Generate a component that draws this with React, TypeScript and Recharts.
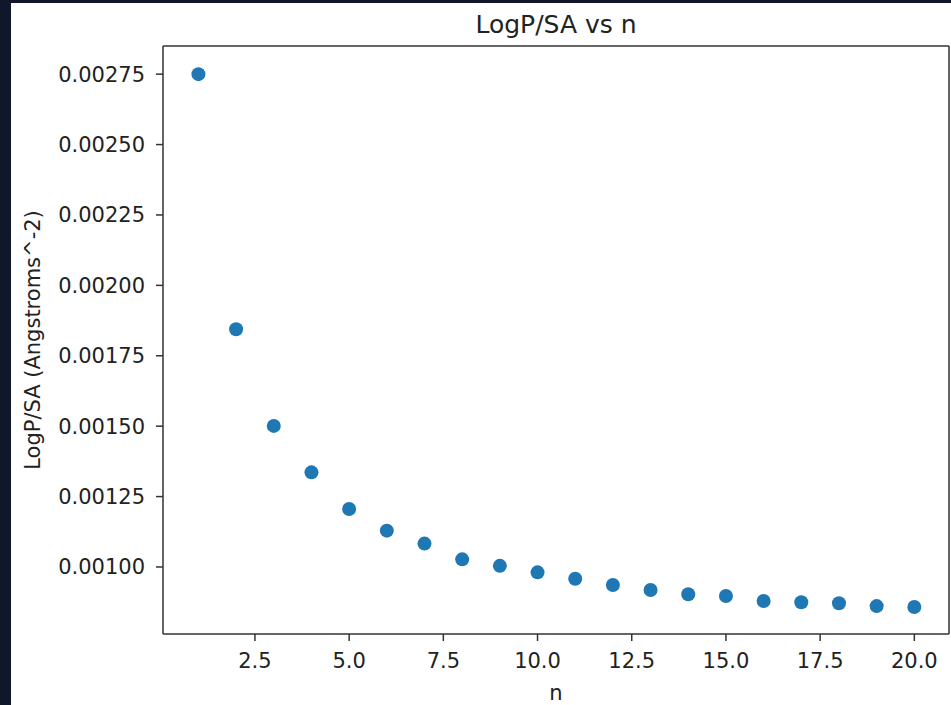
import { ScatterChart, Scatter, XAxis, YAxis, ReferenceLine, Label } from 'recharts';

const nValues = [1, 2, 3, 4, 5, 6, 7, 8, 9, 10, 11, 12, 13, 14, 15, 16, 17, 18, 19, 20];
const logPSA = [
  0.00275, 0.001844, 0.001501, 0.001336, 0.001206, 0.001129, 0.001083, 0.001027, 0.001004, 0.000981,
  0.000958, 0.000936, 0.000918, 0.000903, 0.000897, 0.000879, 0.000875, 0.000871, 0.000861, 0.000858,
];
const xTicks = [2.5, 5, 7.5, 10, 12.5, 15, 17.5, 20];
const yTicks = [0.001, 0.00125, 0.0015, 0.00175, 0.002, 0.00225, 0.0025, 0.00275];
const X_DOMAIN: [number, number] = [0.06, 20.92];
const Y_DOMAIN: [number, number] = [0.000762, 0.00285];

const data = nValues.map((n, i) => ({ n, value: logPSA[i] }));

const FONT = '"DejaVu Sans", sans-serif';
const INK = '#222';
const SPINE = '#333';
const DOT = '#1f77b4';

const Dot = (props: { cx?: number; cy?: number }) => {
  if (props.cx == null || props.cy == null) return null;
  return <circle cx={props.cx} cy={props.cy} r={7} fill={DOT} />;
};

const YTitle = ({ viewBox }: { viewBox?: { x: number; y: number; width: number; height: number } }) => {
  if (!viewBox) return null;
  const x = viewBox.x + 40;
  const y = viewBox.y + viewBox.height / 2;
  return (
    <text
      x={x}
      y={y}
      transform={`rotate(-90, ${x}, ${y})`}
      textAnchor="middle"
      fontFamily={FONT}
      fontSize={21}
      fill={INK}
    >
      LogP/SA (Angstroms^-2)
    </text>
  );
};

const XTitle = ({ viewBox }: { viewBox?: { x: number; y: number; width: number; height: number } }) => {
  if (!viewBox) return null;
  return (
    <text
      x={viewBox.x + viewBox.width / 2}
      y={viewBox.y + 66}
      textAnchor="middle"
      fontFamily={FONT}
      fontSize={21}
      fill={INK}
    >
      n
    </text>
  );
};

const ChartTitle = ({ viewBox }: { viewBox?: { x: number; y: number; width: number } }) => {
  if (!viewBox) return null;
  return (
    <text
      x={viewBox.x + viewBox.width / 2}
      y={viewBox.y - 13}
      textAnchor="middle"
      fontFamily={FONT}
      fontSize={25}
      fill={INK}
    >
      LogP/SA vs n
    </text>
  );
};

export default function App() {
  return (
    <div style={{ position: 'absolute', left: 0, top: 0, width: 951, height: 705, background: '#10172a' }}>
      <div style={{ position: 'absolute', left: 11, top: 3, right: 0, bottom: 0, background: '#fff' }} />
      <div style={{ position: 'absolute', left: 0, top: 0 }}>
        <ScatterChart width={951} height={705} margin={{ top: 46, right: 2, bottom: 0, left: 0 }}>
          <XAxis
            type="number"
            dataKey="n"
            domain={X_DOMAIN}
            allowDataOverflow
            ticks={xTicks}
            tickFormatter={(v: number) => v.toFixed(1)}
            height={71}
            tickSize={7}
            tickMargin={12}
            stroke={SPINE}
            strokeWidth={1.5}
            tick={{ fill: INK, fontSize: 21, fontFamily: FONT }}
            tickLine={{ stroke: SPINE, strokeWidth: 1.5 }}
          >
            <Label content={<XTitle />} />
          </XAxis>
          <YAxis
            type="number"
            dataKey="value"
            domain={Y_DOMAIN}
            allowDataOverflow
            ticks={yTicks}
            tickFormatter={(v: number) => v.toFixed(5)}
            width={163}
            tickSize={7}
            tickMargin={11}
            stroke={SPINE}
            strokeWidth={1.5}
            tick={{ fill: INK, fontSize: 21, fontFamily: FONT }}
            tickLine={{ stroke: SPINE, strokeWidth: 1.5 }}
          >
            <Label content={<YTitle />} />
          </YAxis>
          <ReferenceLine y={Y_DOMAIN[1]} stroke={SPINE} strokeWidth={1.5}>
            <Label content={<ChartTitle />} />
          </ReferenceLine>
          <ReferenceLine x={X_DOMAIN[1]} stroke={SPINE} strokeWidth={1.5} />
          <Scatter data={data} fill={DOT} shape={<Dot />} isAnimationActive={false} />
        </ScatterChart>
      </div>
    </div>
  );
}
